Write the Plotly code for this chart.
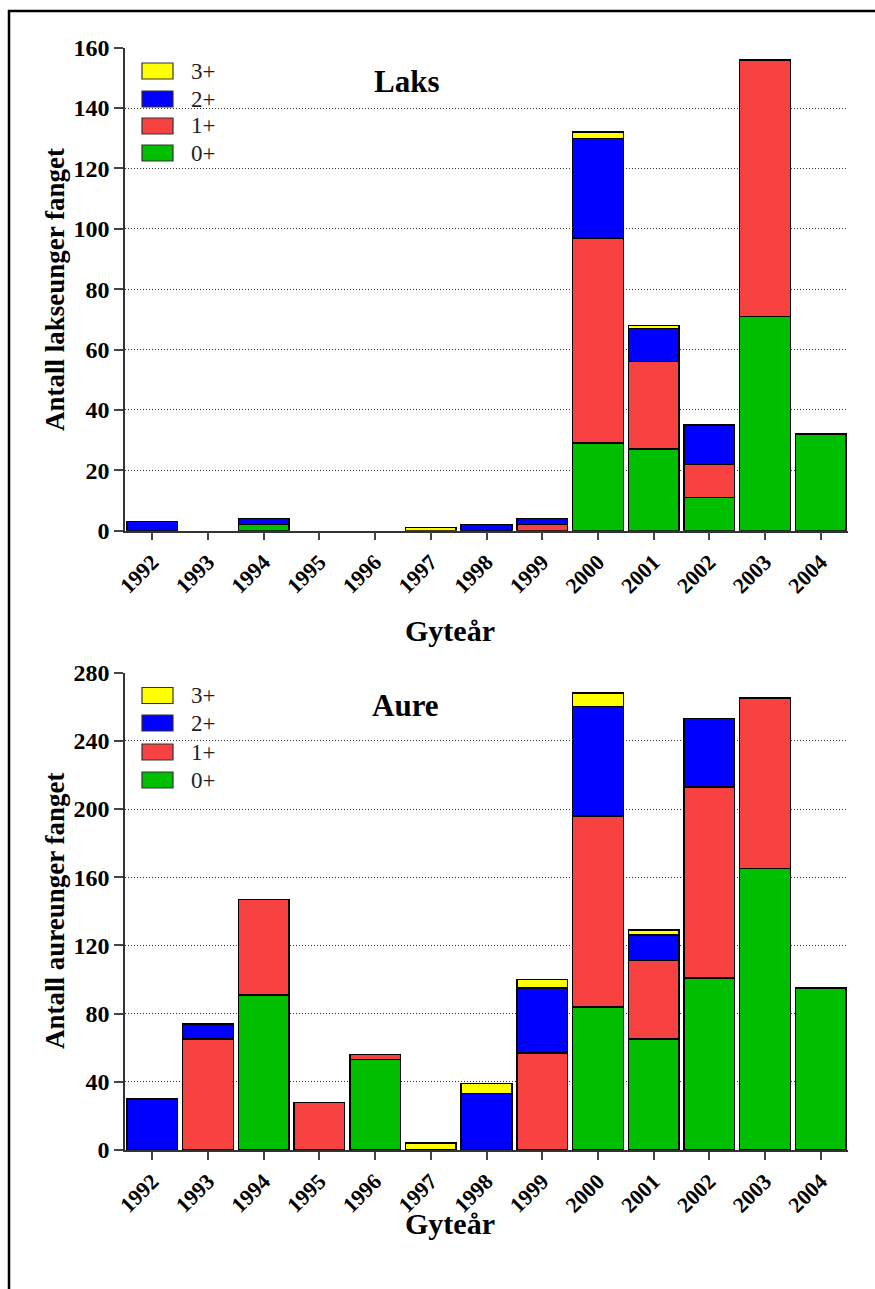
import plotly.graph_objects as go

W, H = 875, 1289

years = ["1992", "1993", "1994", "1995", "1996", "1997", "1998",
         "1999", "2000", "2001", "2002", "2003", "2004"]
age_labels = ["0+", "1+", "2+", "3+"]
age_colors = ["#00BE00", "#F84242", "#0000FF", "#FFFF00"]

# Laks (salmon) counts per age group
laks_0 = [0, 0, 2, 0, 0, 0, 0, 0, 29, 27, 11, 71, 32]
laks_1 = [0, 0, 0, 0, 0, 0, 0, 2, 68, 29, 11, 85, 0]
laks_2 = [3, 0, 2, 0, 0, 0, 2, 2, 33, 11, 13, 0, 0]
laks_3 = [0, 0, 0, 0, 0, 1, 0, 0, 2, 1, 0, 0, 0]

# Aure (trout) counts per age group
aure_0 = [0, 0, 91, 0, 53, 0, 0, 0, 84, 65, 101, 165, 95]
aure_1 = [0, 65, 56, 28, 3, 0, 0, 57, 112, 46, 112, 100, 0]
aure_2 = [30, 9, 0, 0, 0, 0, 33, 38, 64, 15, 40, 0, 0]
aure_3 = [0, 0, 0, 0, 0, 4, 6, 5, 8, 3, 0, 0, 0]

laks_ticks = [0, 20, 40, 60, 80, 100, 120, 140, 160]
aure_ticks = [0, 40, 80, 120, 160, 200, 240, 280]

FONT = "Liberation Serif"

def px_x(x):
    return x / W

def px_y(y):
    return 1 - y / H

fig = go.Figure()

for series, xa, ya in [((laks_0, laks_1, laks_2, laks_3), "x", "y"),
                       ((aure_0, aure_1, aure_2, aure_3), "x2", "y2")]:
    for vals, name, col in zip(series, age_labels, age_colors):
        fig.add_trace(go.Bar(
            x=years, y=[v if v else None for v in vals],
            name=name, xaxis=xa, yaxis=ya,
            marker=dict(color=col, line=dict(color="black", width=1.5)),
            showlegend=False,
        ))

xdom = [px_x(125), px_x(848)]
common_x = dict(
    type="category", range=[-0.49, 12.49], domain=xdom, automargin=False,
    showline=True, linecolor="#333", linewidth=1.5,
    ticks="outside", ticklen=8, tickwidth=1.5, tickcolor="#444",
    tickangle=-45, showgrid=False, zeroline=False,
    tickfont=dict(family=FONT, size=22, color="black", weight="bold"),
)
common_y = dict(
    automargin=False,
    showline=True, linecolor="#333", linewidth=1.5,
    ticks="outside", ticklen=9, tickwidth=1.5, tickcolor="#444",
    showgrid=True, gridcolor="#333", gridwidth=1, griddash="1px,2px",
    zeroline=False,
    tickfont=dict(family=FONT, size=24, color="black", weight="bold"),
)

fig.update_layout(
    width=W, height=H, autosize=False,
    margin=dict(l=0, r=0, t=0, b=0, pad=0, autoexpand=False),
    paper_bgcolor="white", plot_bgcolor="white",
    barmode="stack", bargap=0.09, showlegend=False,
    xaxis=dict(common_x, anchor="y"),
    yaxis=dict(common_y, anchor="x", range=[0, 160], tickvals=laks_ticks,
               domain=[px_y(530.7), px_y(47.7)]),
    xaxis2=dict(common_x, anchor="y2"),
    yaxis2=dict(common_y, anchor="x2", range=[0, 280], tickvals=aure_ticks,
                domain=[px_y(1150), px_y(672.6)]),
)

shapes = []
annotations = []

# outer frame
shapes.append(dict(type="rect", xref="paper", yref="paper",
                   x0=px_x(9), x1=1.05, y0=-0.05, y1=px_y(11),
                   line=dict(color="black", width=2.5), fillcolor="rgba(0,0,0,0)",
                   layer="below"))

def add_legend(row_centers):
    order = [3, 2, 1, 0]
    for yc, idx in zip(row_centers, order):
        shapes.append(dict(type="rect", xref="paper", yref="paper",
                           x0=px_x(142), x1=px_x(173),
                           y0=px_y(yc + 8), y1=px_y(yc - 8),
                           fillcolor=age_colors[idx],
                           line=dict(color="#333", width=1.2)))
        annotations.append(dict(xref="paper", yref="paper", x=px_x(189), y=px_y(yc),
                                text=age_labels[idx], showarrow=False,
                                xanchor="left", yanchor="middle",
                                font=dict(family=FONT, size=23, color="#222")))

add_legend([71, 99, 126, 153])
add_legend([695.5, 723, 752, 780])

def add_text(x, y, text, size, angle=0):
    annotations.append(dict(xref="paper", yref="paper", x=px_x(x), y=px_y(y),
                            text=text, showarrow=False, textangle=angle,
                            xanchor="center", yanchor="middle",
                            font=dict(family=FONT, size=size, color="black",
                                      weight="bold")))

add_text(406, 81, "Laks", 31)
add_text(405, 705, "Aure", 31)
add_text(450, 630, "Gyteår", 30)
add_text(450, 1223, "Gyteår", 30)
add_text(55, 290, "Antall lakseunger fanget", 27, -90)
add_text(55, 911, "Antall aureunger fanget", 27, -90)

fig.update_layout(shapes=shapes, annotations=annotations)

fig.write_html("out.html")
